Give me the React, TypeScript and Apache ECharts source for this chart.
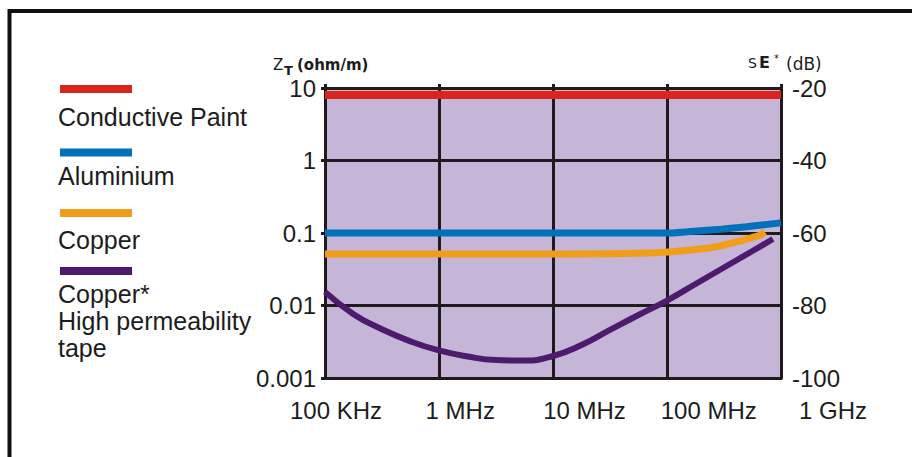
import React, { useEffect, useRef } from "react";
import * as echarts from "echarts";

// ---- data ----
const xTickLabels = ["100 KHz", "1 MHz", "10 MHz", "100 MHz", "1 GHz"];
const yTickLabels = ["0.001", "0.01", "0.1", "1", "10"];
const seriesNames = ["Conductive Paint", "Aluminium", "Copper", "Copper*\nHigh permeability\ntape"];
const seriesColors = ["#D9261C", "#0071BA", "#F09D1A", "#4E1A6E"];

const paintFreq = [1e5, 1e9];
const paintZ = [8, 8];

const aluFreq = [1e5, 1e6, 1e7, 1e8, 1.5e8, 3e8, 5e8, 1e9];
const aluZ = [0.1, 0.1, 0.1, 0.1, 0.104, 0.113, 0.122, 0.138];

const copperFreq = [1e5, 1e6, 1e7, 8e7, 1.96e8, 2.9e8, 4.4e8, 6.6e8, 7.2e8];
const copperZ = [0.0515, 0.0515, 0.0515, 0.0535, 0.06, 0.066, 0.078, 0.094, 0.103];

const tapeFreq = [1e5, 1.78e5, 3.16e5, 5.62e5, 1e6, 1.78e6, 3.16e6, 5.62e6, 1e7, 1.78e7, 3.16e7, 5.62e7, 1e8, 1.78e8, 3.16e8, 5.62e8, 8.5e8];
const tapeZ = [0.0154, 0.0076, 0.0047, 0.0032, 0.0024, 0.00198, 0.00177, 0.00174, 0.00201, 0.00285, 0.0046, 0.0074, 0.0117, 0.0198, 0.0334, 0.0565, 0.0826];

const FONT = "'Liberation Sans', Arial, sans-serif";
const DV = "'DejaVu Sans', sans-serif";
const TXT = "#1c1c1c";
const GRIDC = "#1f1a1c";

const zip = (a: number[], b: number[]) => a.map((v, i) => [v, b[i]]);

export default function App() {
  const ref = useRef<HTMLDivElement>(null);
  useEffect(() => {
    if (!ref.current) return;
    const chart = echarts.init(ref.current, null, { renderer: "svg" });

    const legendLineY = [89, 152.5, 213, 271];
    const legendTextY = [116.5, 176, 239.5, 293.5];
    const graphics: any[] = [
      {
        type: "rect",
        shape: { x: 9.5, y: 11, width: 1000, height: 1000 },
        style: { fill: "none", stroke: "#111", lineWidth: 4 },
        z: 10,
      },
    ];
    seriesNames.forEach((name, i) => {
      graphics.push({
        type: "line",
        shape: { x1: 60, y1: legendLineY[i], x2: 132, y2: legendLineY[i] },
        style: { stroke: seriesColors[i], lineWidth: 8 },
      });
      name.split("\n").forEach((ln, j) => {
        graphics.push({
          type: "text",
          x: 58,
          y: legendTextY[i] + j * 27,
          style: { text: ln, font: `25px ${FONT}`, fill: TXT, verticalAlign: "middle", align: "left" },
        });
      });
    });
    // axis names
    graphics.push(
      { type: "text", x: 273, y: 65, style: { text: "Z", font: `15px ${DV}`, fill: TXT, verticalAlign: "middle" } },
      { type: "text", x: 284, y: 70, style: { text: "T", font: `bold 13px ${DV}`, fill: TXT, verticalAlign: "middle" } },
      { type: "text", x: 297, y: 65, style: { text: "(ohm/m)", font: `bold 15px ${DV}`, fill: TXT, verticalAlign: "middle" } },
      { type: "text", x: 748, y: 63, style: { text: "S", font: `14px ${DV}`, fill: TXT, verticalAlign: "middle" } },
      { type: "text", x: 759, y: 62.5, style: { text: "E", font: `bold 16px ${DV}`, fill: TXT, verticalAlign: "middle" } },
      { type: "text", x: 774, y: 58, style: { text: "*", font: `10px ${DV}`, fill: TXT, verticalAlign: "middle" } },
      { type: "text", x: 786, y: 64, style: { text: "(dB)", font: `17px ${DV}`, fill: TXT, verticalAlign: "middle" } }
    );

    const xLab = (v: number) => xTickLabels[Math.round(Math.log10(v)) - 5] ?? "";
    const yLab = (v: number) => yTickLabels[Math.round(Math.log10(v)) + 3] ?? "";

    const option: any = {
      animation: false,
      backgroundColor: "#ffffff",
      grid: [
        {
          left: 325, right: 131, top: 88, bottom: 79,
          show: true, backgroundColor: "#C5B5D7", borderColor: "#333", borderWidth: 2,
        },
        { left: 336, right: 79, top: 88, bottom: 79, show: false },
      ],
      xAxis: [
        {
          type: "log", gridIndex: 0, logBase: 10, min: 1e5, max: 1e9,
          axisLine: { show: true, lineStyle: { color: GRIDC, width: 3 } },
          axisTick: { show: false },
          axisLabel: { show: false },
          splitLine: { show: true, lineStyle: { color: GRIDC, width: 3 } },
        },
        {
          type: "log", gridIndex: 1, logBase: 10, min: 1e5, max: 1e9,
          axisLine: { show: false }, axisTick: { show: false }, splitLine: { show: false },
          axisLabel: { show: true, formatter: xLab, fontSize: 24, fontFamily: FONT, color: TXT, margin: 20 },
        },
        {
          type: "log", gridIndex: 0, logBase: 10, min: 1e5, max: 1e9, position: "top",
          axisLine: { show: false },
          axisTick: { show: true, length: 4, lineStyle: { color: GRIDC, width: 3 } },
          axisLabel: { show: false }, splitLine: { show: false },
        },
      ],
      yAxis: [
        {
          type: "log", gridIndex: 0, logBase: 10, min: 0.001, max: 10, position: "left",
          axisLine: { show: true, lineStyle: { color: GRIDC, width: 3 } },
          axisTick: { show: true, length: 4, lineStyle: { color: GRIDC, width: 3 } },
          axisLabel: { formatter: yLab, fontSize: 24, fontFamily: FONT, color: TXT, margin: 9 },
          splitLine: { show: true, lineStyle: { color: GRIDC, width: 3 } },
        },
        {
          type: "value", gridIndex: 0, min: -100, max: -20, interval: 20, position: "right",
          axisLine: { show: true, lineStyle: { color: GRIDC, width: 3 } },
          axisTick: { show: false },
          axisLabel: { fontSize: 24, fontFamily: FONT, color: TXT, margin: 11 },
          splitLine: { show: false },
        },
        { type: "value", gridIndex: 1, show: false, min: 0, max: 1 },
      ],
      series: [
        { name: seriesNames[0], type: "line", xAxisIndex: 0, yAxisIndex: 0, data: zip(paintFreq, paintZ), showSymbol: false, lineStyle: { color: seriesColors[0], width: 8 } },
        { name: seriesNames[1], type: "line", xAxisIndex: 0, yAxisIndex: 0, data: zip(aluFreq, aluZ), showSymbol: false, smooth: 0.3, lineStyle: { color: seriesColors[1], width: 7 } },
        { name: seriesNames[2], type: "line", xAxisIndex: 0, yAxisIndex: 0, data: zip(copperFreq, copperZ), showSymbol: false, smooth: 0.3, lineStyle: { color: seriesColors[2], width: 7 } },
        { name: seriesNames[3], type: "line", xAxisIndex: 0, yAxisIndex: 0, data: zip(tapeFreq, tapeZ), showSymbol: false, smooth: 0.5, lineStyle: { color: seriesColors[3], width: 6 } },
      ],
      graphic: graphics,
    };
    chart.setOption(option);
    return () => chart.dispose();
  }, []);
  return (
    <div
      ref={ref}
      style={{ position: "absolute", left: 0, top: 0, width: 912, height: 457, background: "#fff" }}
    />
  );
}
